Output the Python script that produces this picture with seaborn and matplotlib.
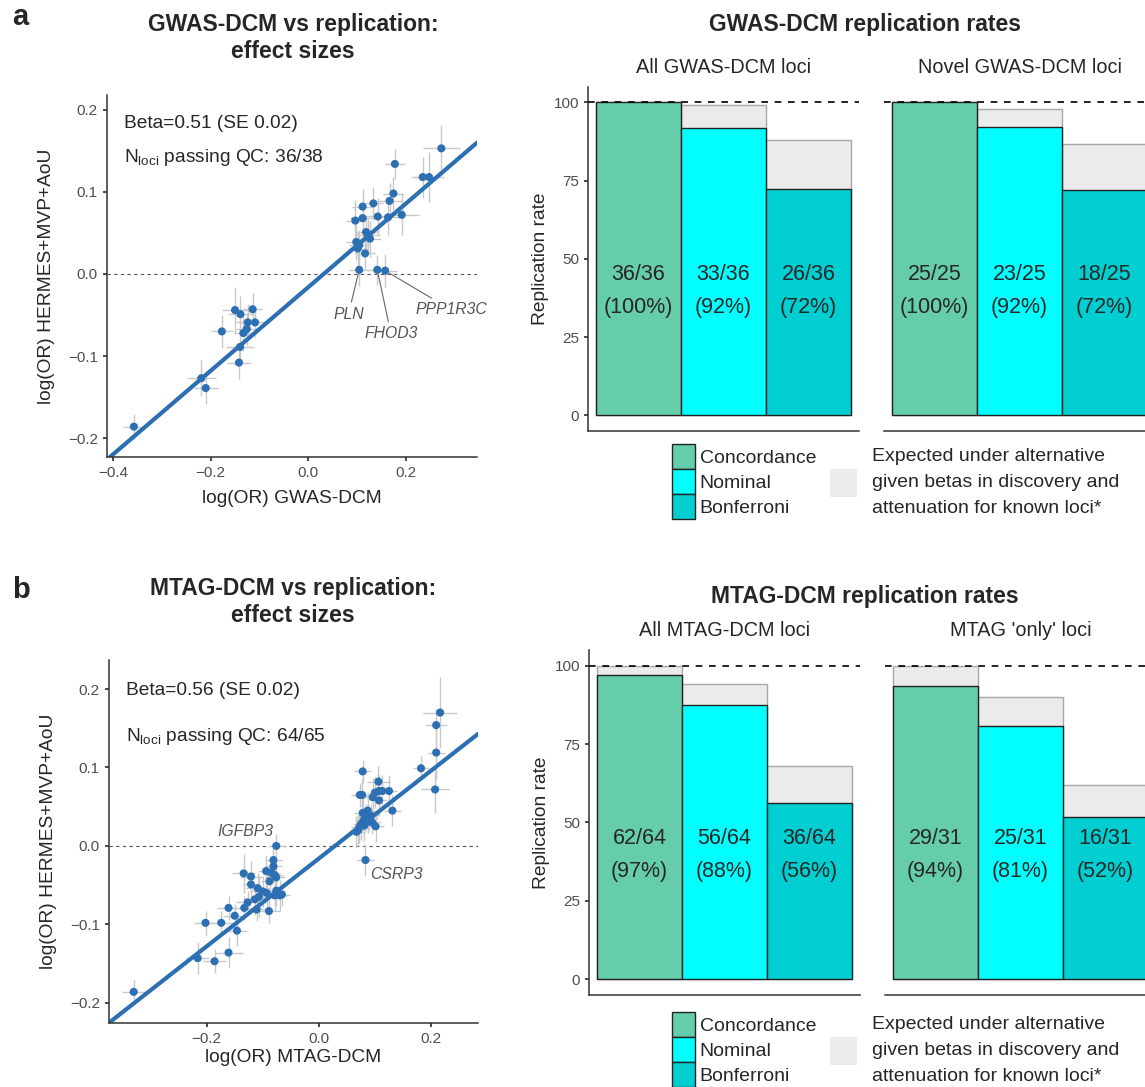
import numpy as np
import pandas as pd
import matplotlib
matplotlib.use("Agg")
import matplotlib.pyplot as plt
from matplotlib.patches import Patch
import seaborn as sns

#---------------------------------------------------------------------------
# data
#---------------------------------------------------------------------------

# a) GWAS-DCM vs replication, log(OR) per locus with standard errors
gwas_x = [-0.357, -0.219, -0.210, -0.177, -0.150, -0.139, -0.114, -0.124, -0.109,
          -0.126, -0.133, -0.140, -0.142,
          0.272, 0.234, 0.247, 0.177, 0.174, 0.166, 0.191, 0.142, 0.133, 0.111,
          0.096, 0.111, 0.098, 0.101, 0.116, 0.122, 0.126, 0.104, 0.118, 0.163,
          0.104, 0.141, 0.157]
gwas_y = [-0.186, -0.127, -0.139, -0.070, -0.044, -0.049, -0.043, -0.059, -0.059,
          -0.067, -0.072, -0.089, -0.108,
          0.153, 0.118, 0.118, 0.134, 0.098, 0.089, 0.072, 0.070, 0.086, 0.082,
          0.065, 0.068, 0.039, 0.031, 0.025, 0.047, 0.043, 0.035, 0.051, 0.069,
          0.005, 0.005, 0.004]
gwas_xse = [0.022, 0.030, 0.025, 0.022, 0.027, 0.025, 0.020, 0.025, 0.020,
            0.022, 0.020, 0.028, 0.025,
            0.038, 0.025, 0.030, 0.020, 0.022, 0.025, 0.035, 0.025, 0.020, 0.022,
            0.020, 0.025, 0.022, 0.020, 0.020, 0.025, 0.022, 0.020, 0.022, 0.025,
            0.020, 0.022, 0.025]
gwas_yse = [0.015, 0.022, 0.020, 0.020, 0.028, 0.022, 0.020, 0.022, 0.018,
            0.020, 0.022, 0.022, 0.020,
            0.028, 0.025, 0.030, 0.018, 0.020, 0.022, 0.025, 0.022, 0.020, 0.022,
            0.025, 0.025, 0.022, 0.020, 0.020, 0.020, 0.022, 0.018, 0.020, 0.022,
            0.020, 0.018, 0.020]
gwas_beta = 0.51
gwas_icpt = -0.016
gwas_genes = ["PLN", "FHOD3", "PPP1R3C"]
gwas_gene_idx = [33, 34, 35]

# b) MTAG-DCM vs replication
mtag_x = [-0.330, -0.216, -0.186, -0.161, -0.202, -0.174, -0.161, -0.150, -0.146,
          -0.133, -0.127, -0.134, -0.121, -0.121, -0.109, -0.114, -0.107, -0.111,
          -0.094, -0.093, -0.089, -0.085, -0.081, -0.081, -0.079, -0.076, -0.076,
          -0.076, -0.070, -0.079, -0.066, -0.100, -0.088,
          0.216, 0.209, 0.209, 0.182, 0.207, 0.078, 0.073, 0.077, 0.106, 0.096,
          0.107, 0.113, 0.125, 0.107, 0.131, 0.078, 0.087, 0.092, 0.084, 0.101,
          0.075, 0.070, 0.081, 0.087, 0.067, 0.083, 0.090, 0.095, 0.080, 0.100,
          0.072]
mtag_y = [-0.186, -0.143, -0.147, -0.136, -0.098, -0.098, -0.079, -0.089, -0.108,
          -0.079, -0.072, -0.035, -0.039, -0.049, -0.054, -0.068, -0.065, -0.081,
          -0.032, -0.060, -0.083, -0.034, -0.018, -0.026, -0.037, -0.040, 0.000,
          -0.057, -0.063, -0.063, -0.062, -0.058, -0.045,
          0.170, 0.154, 0.119, 0.099, 0.072, 0.095, 0.065, 0.065, 0.082, 0.062,
          0.070, 0.070, 0.070, 0.058, 0.045, 0.042, 0.045, 0.039, 0.038, 0.025,
          0.028, 0.020, 0.026, 0.031, 0.018, -0.018, 0.035, 0.030, 0.033, 0.068,
          0.024]
mtag_xse = [0.020, 0.020, 0.020, 0.025, 0.020, 0.020, 0.020, 0.020, 0.020,
            0.020, 0.020, 0.020, 0.020, 0.015, 0.020, 0.020, 0.015, 0.020,
            0.015, 0.020, 0.020, 0.015, 0.015, 0.015, 0.015, 0.015, 0.015,
            0.015, 0.015, 0.015, 0.015, 0.020, 0.015,
            0.030, 0.020, 0.015, 0.015, 0.025, 0.015, 0.015, 0.015, 0.020, 0.015,
            0.015, 0.015, 0.015, 0.015, 0.015, 0.015, 0.015, 0.015, 0.015, 0.015,
            0.015, 0.015, 0.015, 0.015, 0.015, 0.015, 0.015, 0.015, 0.015, 0.015,
            0.015]
mtag_yse = [0.015, 0.020, 0.015, 0.020, 0.015, 0.015, 0.015, 0.015, 0.020,
            0.015, 0.015, 0.025, 0.020, 0.020, 0.020, 0.020, 0.025, 0.015,
            0.020, 0.025, 0.015, 0.015, 0.020, 0.020, 0.015, 0.020, 0.015,
            0.020, 0.020, 0.020, 0.015, 0.020, 0.020,
            0.045, 0.020, 0.035, 0.015, 0.030, 0.015, 0.015, 0.020, 0.020, 0.025,
            0.020, 0.020, 0.020, 0.020, 0.020, 0.020, 0.020, 0.015, 0.015, 0.020,
            0.020, 0.020, 0.020, 0.015, 0.020, 0.020, 0.015, 0.015, 0.015, 0.020,
            0.020]
mtag_beta = 0.56
mtag_icpt = -0.016
mtag_genes = ["IGFBP3", "CSRP3"]
mtag_gene_idx = [26, 58]

# replication rates
levels = ["Concordance", "Nominal", "Bonferroni"]
gwas_all_n, gwas_all_tot, gwas_all_exp = [36, 33, 26], 36, [100, 99.0, 88.0]
gwas_novel_n, gwas_novel_tot, gwas_novel_exp = [25, 23, 18], 25, [100, 97.8, 86.7]
mtag_all_n, mtag_all_tot, mtag_all_exp = [62, 56, 36], 64, [100, 94.2, 68.1]
mtag_only_n, mtag_only_tot, mtag_only_exp = [29, 25, 16], 31, [100, 89.9, 61.8]

#---------------------------------------------------------------------------
# style
#---------------------------------------------------------------------------
sns.set_theme(style="ticks")
plt.rcParams['font.family'] = ['Liberation Sans', 'DejaVu Sans']
plt.rcParams['mathtext.default'] = 'regular'
plt.rcParams['axes.edgecolor'] = '#333333'
plt.rcParams['axes.linewidth'] = 1.1
plt.rcParams['xtick.color'] = '#333333'
plt.rcParams['ytick.color'] = '#333333'
plt.rcParams['xtick.labelcolor'] = '#4d4d4d'
plt.rcParams['ytick.labelcolor'] = '#4d4d4d'
plt.rcParams['xtick.major.size'] = 3
plt.rcParams['ytick.major.size'] = 3

BLUE = '#2c6fb2'
level_colors = {"Concordance": "#66cdaa", "Nominal": "#00ffff", "Bonferroni": "#00ced1"}
GREY = '#ebebeb'

W, H = 1145, 1087
fig = plt.figure(figsize=(W / 100, H / 100), dpi=100)


def px_axes(x0, y0, x1, y1):
    # axes from pixel box (top-left origin)
    return fig.add_axes([x0 / W, 1 - y1 / H, (x1 - x0) / W, (y1 - y0) / H])


def effect_panel(ax, x, y, xse, yse, beta, icpt, xlim, ylim, xticks, xlabel,
                 n_text, xlabelpad):
    ax.errorbar(x, y, xerr=xse, yerr=yse, fmt='none', ecolor='#c8c8c8',
                elinewidth=1, zorder=1)
    ax.axhline(0, color='#555555', lw=0.8, ls=(0, (3, 3)), zorder=0)
    ax.axline((0, icpt), slope=beta, color=BLUE, lw=3, zorder=2)
    sns.scatterplot(x=x, y=y, ax=ax, color=BLUE, s=34, edgecolor='none',
                    zorder=3, legend=False)
    ax.set_xlim(*xlim)
    ax.set_ylim(*ylim)
    ax.set_xticks(xticks)
    ax.set_yticks([-0.2, -0.1, 0.0, 0.1, 0.2])
    ax.tick_params(labelsize=11)
    ax.set_xlabel(xlabel, fontsize=13.8, labelpad=xlabelpad)
    ax.set_ylabel("log(OR) HERMES+MVP+AoU", fontsize=13.8, labelpad=9)
    sns.despine(ax=ax)
    ax.text(0.045, n_text[0], "Beta=%.2f (SE 0.02)" % beta, transform=ax.transAxes,
            fontsize=13.8, va='center')
    ax.text(0.045, n_text[1], n_text[2], transform=ax.transAxes,
            fontsize=13.8, va='center')


def rate_panel(ax, title, counts, total, expected, first):
    df = pd.DataFrame({'level': levels,
                       'rate': 100 * np.array(counts) / total,
                       'expected': expected})
    sns.barplot(data=df, x='level', y='expected', order=levels, color=GREY,
                saturation=1, edgecolor='#a8a8a8', linewidth=1, width=1,
                errorbar=None, ax=ax)
    sns.barplot(data=df, x='level', y='rate', order=levels, hue='level',
                palette=level_colors, saturation=1, edgecolor='#222222',
                linewidth=1, width=1, errorbar=None, legend=False, ax=ax)
    ax.axhline(100, color='black', lw=1.2, ls=(0, (4, 4)), zorder=5)
    for i, n in enumerate(counts):
        ax.text(i, 45, "%d/%d" % (n, total), ha='center', va='center', fontsize=15.5)
        ax.text(i, 34.3, "(%d%%)" % round(100 * n / total), ha='center',
                va='center', fontsize=15.5)
    ax.set_xlim(-0.594, 2.594)
    ax.set_ylim(-5, 105)
    ax.set_xlabel('')
    ax.set_xticks([])
    ax.text(0.5, 1.056, title, transform=ax.transAxes, ha='center', va='center',
            fontsize=14.3)
    if first:
        ax.set_yticks([0, 25, 50, 75, 100])
        ax.tick_params(axis='y', labelsize=11)
        ax.set_ylabel("Replication rate", fontsize=13.8, labelpad=3)
        sns.despine(ax=ax)
    else:
        ax.set_yticks([])
        ax.set_ylabel('')
        sns.despine(ax=ax, left=True)


def legend_block(y_top):
    handles = [Patch(facecolor=level_colors[l], edgecolor='#222222', lw=1) for l in levels]
    fig.legend(handles=handles, labels=levels, loc='upper left',
               bbox_to_anchor=(672 / W, 1 - y_top / H), frameon=False,
               fontsize=14, handlelength=1.2, handleheight=1.6, labelspacing=0,
               handletextpad=0.22, borderpad=0, borderaxespad=0)
    fig.legend(handles=[Patch(facecolor=GREY, edgecolor='none')], labels=[''],
               loc='upper left', bbox_to_anchor=(830 / W, 1 - (y_top + 25) / H),
               frameon=False, fontsize=14, handlelength=1.39, handleheight=1.84,
               borderpad=0, borderaxespad=0)
    note = ["Expected under alternative", "given betas in discovery and",
            "attenuation for known loci*"]
    for k, line in enumerate(note):
        fig.text(872 / W, 1 - (y_top + 12.7 + 26 * k) / H, line, fontsize=14,
                 va='center')


#---------------------------------------------------------------------------
# panel a
#---------------------------------------------------------------------------
fig.text(12 / W, 1 - 25 / H, "a", fontsize=21, fontweight='bold', va='baseline')
fig.text(293 / W, 1 - 25 / H, "GWAS-DCM vs replication:", fontsize=16.5,
         fontweight='bold', ha='center', va='center')
fig.text(293 / W, 1 - 52 / H, "effect sizes", fontsize=16.5, fontweight='bold',
         ha='center', va='center')

ax_a = px_axes(107, 95, 477, 457)
effect_panel(ax_a, gwas_x, gwas_y, gwas_xse, gwas_yse, gwas_beta, gwas_icpt,
             (-0.412, 0.345), (-0.223, 0.218), [-0.4, -0.2, 0.0, 0.2],
             "log(OR) GWAS-DCM",
             (0.92, 0.826, r"N$_{\mathregular{loci}}$ passing QC: 36/38"), 7)
gene_text_a = [(0.082, -0.049), (0.169, -0.073), (0.292, -0.0435)]
for g, i, xy in zip(gwas_genes, gwas_gene_idx, gene_text_a):
    ax_a.annotate(g, xy=(gwas_x[i], gwas_y[i]), xytext=xy, ha='center', va='center',
                  fontsize=11.3, style='italic', color='#555555',
                  arrowprops=dict(arrowstyle='-', color='#666666', lw=0.8,
                                  shrinkA=1, shrinkB=3))

fig.text(865 / W, 1 - 25 / H, "GWAS-DCM replication rates", fontsize=16.5,
         fontweight='bold', ha='center', va='center')
rate_panel(px_axes(588, 86.6, 859, 431), "All GWAS-DCM loci", gwas_all_n,
           gwas_all_tot, gwas_all_exp, True)
rate_panel(px_axes(884, 86.6, 1155, 431), "Novel GWAS-DCM loci", gwas_novel_n,
           gwas_novel_tot, gwas_novel_exp, False)
legend_block(444)

#---------------------------------------------------------------------------
# panel b
#---------------------------------------------------------------------------
fig.text(12 / W, 1 - 598 / H, "b", fontsize=21, fontweight='bold', va='baseline')
fig.text(293 / W, 1 - 588 / H, "MTAG-DCM vs replication:", fontsize=16.5,
         fontweight='bold', ha='center', va='center')
fig.text(293 / W, 1 - 616 / H, "effect sizes", fontsize=16.5, fontweight='bold',
         ha='center', va='center')

ax_b = px_axes(109, 660, 478, 1023)
effect_panel(ax_b, mtag_x, mtag_y, mtag_xse, mtag_yse, mtag_beta, mtag_icpt,
             (-0.374, 0.2835), (-0.2257, 0.237), [-0.2, 0.0, 0.2],
             "log(OR) MTAG-DCM",
             (0.917, 0.788, r"N$_{\mathregular{loci}}$ passing QC: 64/65"), 2.5)
gene_text_b = [(-0.131, 0.018), (0.138, -0.036)]
for g, xy in zip(mtag_genes, gene_text_b):
    ax_b.text(xy[0], xy[1], g, ha='center', va='center', fontsize=11.3,
              style='italic', color='#555555')

fig.text(865 / W, 1 - 597 / H, "MTAG-DCM replication rates", fontsize=16.5,
         fontweight='bold', ha='center', va='center')
rate_panel(px_axes(589, 650, 860, 994.7), "All MTAG-DCM loci", mtag_all_n,
           mtag_all_tot, mtag_all_exp, True)
rate_panel(px_axes(885, 650, 1156, 994.7), "MTAG 'only' loci", mtag_only_n,
           mtag_only_tot, mtag_only_exp, False)
legend_block(1011.7)

plt.savefig("out.png", dpi=100)
